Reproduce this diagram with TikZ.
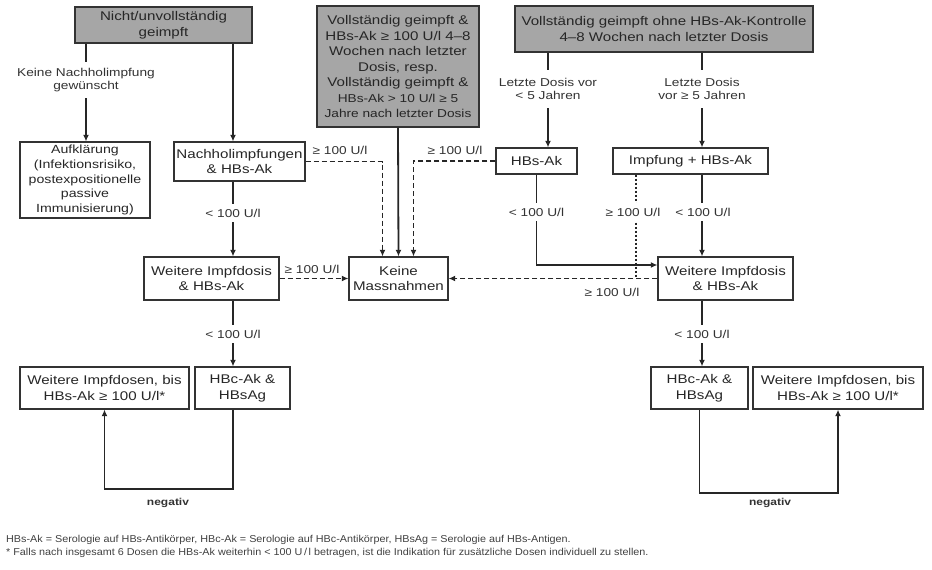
\documentclass[tikz,border=0pt]{standalone}
\usepackage{fontspec}
\setmainfont{Liberation Sans}[FakeStretch=1.2]
\newfontfamily\notefont{Liberation Sans}[FakeStretch=1.08]
\usetikzlibrary{arrows.meta,positioning}
\newcommand{\grosstxt}{\fontsize{12.6}{15.5}\selectfont}
\newcommand{\kleintxt}{\fontsize{11.4}{13.8}\selectfont}
\tikzset{
  kasten/.style={draw=black!80, line width=1.3pt, inner sep=1pt, align=center,
    font=\grosstxt, text=black!85},
  grau/.style={kasten, fill=black!35},
  pfeil/.style={-{Latex[length=6.5pt,width=6pt]}, line width=1.8pt, draw=black!85},
  strich/.style={pfeil, dash pattern=on 5pt off 3pt},
  punkt/.style={line width=1.1pt, draw=black!85, dash pattern=on 2pt off 2pt},
  lab/.style={fill=white, inner sep=2pt, align=center, font=\kleintxt, text=black!80},
  note/.style={inner sep=0pt, font=\notefont\fontsize{10}{12}\selectfont, text=black!75}
}
\begin{document}
\begin{tikzpicture}[x=1pt,y=-1pt]
  \useasboundingbox (0,0) rectangle (932,570);

  % Ausgangslage
  \node (nicht) [grau, minimum width=177pt, minimum height=36pt] at (163.5,25)
    {Nicht/unvollständig\\geimpft};
  \node (voll) [grau, minimum width=162pt, minimum height=121pt] at (398,66.5)
    {Vollständig geimpft \&\\HBs-Ak ≥ 100 U/l 4–8\\Wochen nach letzter\\Dosis, resp.\\
     Vollständig geimpft \&\\{\kleintxt HBs-Ak > 10 U/l ≥ 5}\\{\kleintxt Jahre nach letzter Dosis}};
  \node (ohne) [grau, minimum width=298pt, minimum height=46pt] at (664,29)
    {Vollständig geimpft ohne HBs-Ak-Kontrolle\\4–8 Wochen nach letzter Dosis};

  % Boxen
  \node (aufkl) [kasten, minimum width=130pt, minimum height=76pt, font=\fontsize{11.8}{14.6}\selectfont] at (85,180)
    {Aufklärung\\(Infektionsrisiko,\\postexpositionelle\\passive\\Immunisierung)};
  \node (nach) [kasten, minimum width=131pt, minimum height=39pt] at (239.5,161.5)
    {Nachholimpfungen\\\& HBs-Ak};
  \node (hbsak) [kasten, minimum width=81pt, minimum height=26pt] at (536.5,161) {HBs-Ak};
  \node (impf) [kasten, minimum width=155pt, minimum height=26pt] at (690.5,161) {Impfung + HBs-Ak};
  \node (weitL) [kasten, minimum width=135pt, minimum height=43pt] at (211.5,278.5)
    {Weitere Impfdosis\\\& HBs-Ak};
  \node (keine) [kasten, minimum width=99pt, minimum height=43pt] at (398.5,278.5)
    {Keine\\Massnahmen};
  \node (weitR) [kasten, minimum width=135pt, minimum height=43pt] at (725.5,278.5)
    {Weitere Impfdosis\\\& HBs-Ak};
  \node (hbcL) [kasten, minimum width=95pt, minimum height=42pt] at (242.5,388)
    {HBc-Ak \&\\HBsAg};
  \node (dosenL) [kasten, minimum width=169pt, minimum height=42pt] at (104.5,388)
    {Weitere Impfdosen, bis\\HBs-Ak ≥ 100 U/l*};
  \node (hbcR) [kasten, minimum width=97pt, minimum height=42pt] at (699.5,388)
    {HBc-Ak \&\\HBsAg};
  \node (dosenR) [kasten, minimum width=170pt, minimum height=42pt] at (838,388)
    {Weitere Impfdosen, bis\\HBs-Ak ≥ 100 U/l*};

  % Spalten der senkrechten Linien
  \coordinate (colA) at (86,0);
  \coordinate (colL) at (233,0);
  \coordinate (colM) at (548,0);
  \coordinate (colD) at (636,0);
  \coordinate (colR) at (702,0);

  % Verbindungen
  \draw[pfeil] (nicht.south -| colA) -- (aufkl.north -| colA);
  \draw[pfeil] (nicht.south -| colL) -- (nach.north -| colL);
  \draw[pfeil] (nach.south -| colL) -- (weitL.north -| colL);
  \draw[pfeil] (weitL.south -| colL) -- (hbcL.north -| colL);
  \draw[pfeil] (hbcL.south -| colL) -- ++(0,79) -| (dosenL.south);
  \draw[pfeil] (voll.south) -- (keine.north);
  \draw[strich] (nach.east) -| ([xshift=-16pt]keine.north);
  \draw[strich] (hbsak.west) -| ([xshift=15pt]keine.north);
  \draw[strich] (weitL.east) -- (keine.west);
  \draw[pfeil] (ohne.south -| colM) -- (hbsak.north -| colM);
  \draw[pfeil] (ohne.south -| colR) -- (impf.north -| colR);
  \draw[pfeil] (hbsak.south) |- ([yshift=13.5pt]weitR.west);
  \draw[punkt] (impf.south -| colD) -- (weitR.west -| colD);
  \draw[strich] (weitR.west) -- (keine.east);
  \draw[pfeil] (impf.south -| colR) -- (weitR.north -| colR);
  \draw[pfeil] (weitR.south -| colR) -- (hbcR.north -| colR);
  \draw[pfeil] (hbcR.south) -- ++(0,83) -| (dosenR.south);

  % Beschriftungen
  \node (lkein) [lab, inner ysep=6pt] at (86,80) {Keine Nachholimpfung\\gewünscht};
  \node (llt5) [lab, inner ysep=8pt] at (548,89) {Letzte Dosis vor\\< 5 Jahren};
  \node (lge5) [lab, inner ysep=8pt] at (702,89) {Letzte Dosis\\vor ≥ 5 Jahren};
  \node (lnach) [lab, inner ysep=5pt] at (233,213) {< 100 U/l};
  \node (lhbs) [lab, inner ysep=5pt] at (536.5,212) {< 100 U/l};
  \node (limpfa) [lab, inner ysep=5pt] at (633,212) {≥ 100 U/l};
  \node (limpfb) [lab, inner ysep=5pt] at (703,212) {< 100 U/l};
  \node (lnachk) [lab, fill=none] at (340,150) {≥ 100 U/l};
  \node (lhbsk) [lab, fill=none] at (455,150) {≥ 100 U/l};
  \node (lweitL) [lab, fill=none] at (312,269) {≥ 100 U/l};
  \node (lweitR) [lab, fill=none] at (612,292) {≥ 100 U/l};
  \node (lwL) [lab, inner ysep=5pt] at (233,334) {< 100 U/l};
  \node (lwR) [lab, inner ysep=5pt] at (702,334) {< 100 U/l};
  \node (negL) [lab, fill=none, font=\fontsize{10}{12}\selectfont\bfseries] at (168,503) {negativ};
  \node (negR) [lab, fill=none, font=\fontsize{10}{12}\selectfont\bfseries] at (770,503) {negativ};

  % Fussnoten
  \node (fn1) [note, anchor=west] at (6,540)
    {HBs-Ak = Serologie auf HBs-Antikörper, HBc-Ak = Serologie auf HBc-Antikörper, HBsAg = Serologie auf HBs-Antigen.};
  \node (fn2) [note, anchor=west] at (6,553)
    {* Falls nach insgesamt 6 Dosen die HBs-Ak weiterhin < 100 U\,/\,l betragen, ist die Indikation für zusätzliche Dosen individuell zu stellen.};
\end{tikzpicture}
\end{document}
